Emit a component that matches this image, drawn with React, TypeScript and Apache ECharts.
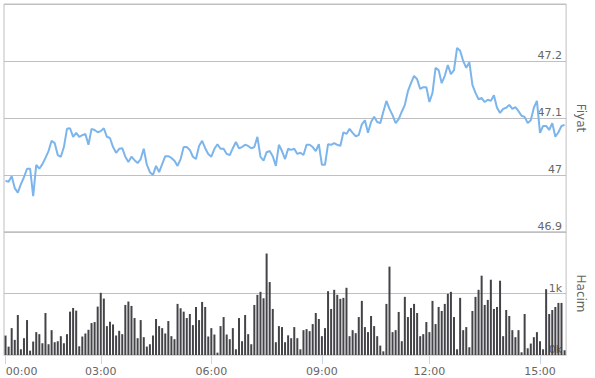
import React, { useEffect, useRef } from "react";
import * as echarts from "echarts";

// Trading sessions (5-minute bars); labels shown only at these times
const sessions: [string, string][] = [
  ["00:00", "00:00"],
  ["00:30", "10:45"],
  ["10:55", "15:40"],
];
const tickLabels = ["00:00", "03:00", "06:00", "09:00", "12:00", "15:00"];

const toMin = (s: string) => {
  const [h, m] = s.split(":").map(Number);
  return h * 60 + m;
};
const fmt = (m: number) =>
  String(Math.floor(m / 60)).padStart(2, "0") + ":" + String(m % 60).padStart(2, "0");
const categories: string[] = [];
sessions.forEach(([a, b]) => {
  for (let m = toMin(a); m <= toMin(b); m += 5) categories.push(fmt(m));
});

const price = [
  46.990, 46.988, 46.998, 46.977, 46.969, 46.984, 46.996, 47.011, 47.011, 46.963,
  47.018, 47.011, 47.019, 47.030, 47.042, 47.060, 47.056, 47.035, 47.032, 47.049,
  47.081, 47.082, 47.067, 47.074, 47.067, 47.070, 47.072, 47.053, 47.081, 47.079,
  47.075, 47.077, 47.082, 47.067, 47.065, 47.049, 47.039, 47.046, 47.047, 47.032,
  47.023, 47.032, 47.026, 47.021, 47.028, 47.046, 47.018, 47.005, 47.000, 47.016,
  47.005, 47.019, 47.033, 47.033, 47.030, 47.025, 47.016, 47.028, 47.049, 47.049,
  47.044, 47.032, 47.028, 47.051, 47.060, 47.047, 47.037, 47.032, 47.046, 47.054,
  47.046, 47.046, 47.037, 47.035, 47.047, 47.058, 47.047, 47.049, 47.053, 47.051,
  47.047, 47.049, 47.067, 47.032, 47.025, 47.040, 47.042, 47.033, 47.016, 47.053,
  47.042, 47.028, 47.046, 47.044, 47.046, 47.037, 47.039, 47.035, 47.053, 47.053,
  47.049, 47.042, 47.054, 47.018, 47.018, 47.054, 47.053, 47.056, 47.053, 47.051,
  47.075, 47.072, 47.081, 47.074, 47.068, 47.070, 47.089, 47.096, 47.074, 47.093,
  47.102, 47.093, 47.091, 47.111, 47.130, 47.116, 47.105, 47.091, 47.098, 47.111,
  47.123, 47.147, 47.161, 47.174, 47.168, 47.151, 47.154, 47.154, 47.128, 47.144,
  47.188, 47.184, 47.161, 47.174, 47.193, 47.177, 47.184, 47.223, 47.218, 47.200,
  47.188, 47.198, 47.158, 47.144, 47.133, 47.135, 47.128, 47.132, 47.130, 47.140,
  47.118, 47.109, 47.116, 47.118, 47.123, 47.116, 47.119, 47.112, 47.104, 47.102,
  47.091, 47.096, 47.118, 47.130, 47.074, 47.086, 47.086, 47.079, 47.091, 47.067,
  47.075, 47.086, 47.088,
];

const volume = [
  316, 136, 437, 246, 650, 93, 273, 568, 71, 219,
  372, 339, 191, 683, 175, 404, 208, 224, 306, 191,
  339, 705, 765, 721, 142, 301, 350, 410, 519, 536,
  787, 1011, 918, 470, 541, 497, 317, 393, 339, 814,
  869, 798, 601, 273, 568, 290, 137, 175, 317, 585,
  470, 437, 350, 552, 306, 257, 831, 760, 705, 601,
  667, 486, 781, 568, 863, 781, 301, 437, 333, 38,
  470, 617, 333, 257, 437, 93, 601, 224, 650, 339,
  175, 814, 978, 1027, 923, 1650, 1186, 749, 208, 470,
  454, 208, 320, 273, 454, 273, 93, 404, 421, 388,
  503, 683, 585, 306, 437, 1038, 749, 1060, 978, 913,
  929, 1093, 306, 404, 355, 617, 880, 454, 372, 634,
  470, 306, 153, 60, 831, 1437, 372, 404, 700, 224,
  945, 617, 765, 831, 683, 306, 339, 536, 372, 880,
  503, 781, 716, 831, 995, 1027, 617, 93, 929, 404,
  454, 126, 716, 945, 1060, 1290, 814, 896, 1224, 749,
  781, 1208, 306, 732, 634, 404, 290, 404, 44, 667,
  109, 186, 290, 372, 224, 93, 1070, 667, 732, 781,
  847, 847, 77,
];

const FONT = "DejaVu Sans";
const GRID_LINE = "#c0c0c0";

export default function App() {
  const ref = useRef<HTMLDivElement>(null);
  useEffect(() => {
    if (!ref.current) return;
    const chart = echarts.init(ref.current, null, { renderer: "svg" });
    const showAt = (_i: number, v: string) => tickLabels.includes(v);
    chart.setOption({
      animation: false,
      grid: [
        { left: 4, right: 26, top: 4, height: 228, show: true, borderColor: GRID_LINE, borderWidth: 1 },
        { left: 4, right: 26, top: 232, height: 123, show: true, borderColor: GRID_LINE, borderWidth: 1 },
      ],
      xAxis: [
        {
          type: "category",
          gridIndex: 0,
          data: categories,
          boundaryGap: true,
          axisLine: { show: false },
          axisTick: { show: false },
          axisLabel: { show: false },
          splitLine: { show: false },
        },
        {
          type: "category",
          gridIndex: 1,
          data: categories,
          boundaryGap: true,
          axisLine: { show: true, lineStyle: { color: "#ccd6eb", width: 1 } },
          axisTick: { show: true, alignWithLabel: true, interval: showAt, length: 9, lineStyle: { color: "#ccd6eb" } },
          axisLabel: {
            interval: showAt,
            margin: 11,
            color: "#666",
            fontSize: 11,
            fontFamily: FONT,
            formatter: (v: string, i: number) => (i === 0 ? `{a|${v}}` : v),
            rich: { a: { padding: [0, 0, 0, 32], color: "#666", fontSize: 11, fontFamily: FONT } },
          },
          splitLine: { show: false },
        },
      ],
      yAxis: [
        {
          type: "value",
          gridIndex: 0,
          position: "right",
          min: 46.9,
          max: 47.3,
          interval: 0.1,
          name: "Fiyat",
          nameLocation: "middle",
          nameRotate: -90,
          nameGap: 10,
          nameTextStyle: { color: "#666", fontSize: 12, fontFamily: FONT, verticalAlign: "top" },
          axisLine: { show: false },
          axisTick: { show: false },
          axisLabel: {
            inside: true,
            margin: 4,
            verticalAlign: "bottom",
            color: "#666",
            fontSize: 11,
            fontFamily: FONT,
            showMaxLabel: false,
          },
          splitLine: { show: true, lineStyle: { color: GRID_LINE, width: 1 } },
        },
        {
          type: "value",
          gridIndex: 1,
          position: "right",
          min: 0,
          max: 2000,
          interval: 1000,
          name: "Hacim",
          nameLocation: "middle",
          nameRotate: -90,
          nameGap: 10,
          nameTextStyle: { color: "#666", fontSize: 12, fontFamily: FONT, verticalAlign: "top" },
          axisLine: { show: false },
          axisTick: { show: false },
          axisLabel: {
            inside: true,
            margin: 4,
            verticalAlign: "bottom",
            color: "#666",
            fontSize: 11,
            fontFamily: FONT,
            showMaxLabel: false,
            formatter: (v: number) => v / 1000 + "k",
          },
          splitLine: { show: true, lineStyle: { color: GRID_LINE, width: 1 } },
        },
      ],
      series: [
        {
          type: "line",
          xAxisIndex: 0,
          yAxisIndex: 0,
          data: price,
          showSymbol: false,
          lineStyle: { color: "#7cb5ec", width: 2 },
          itemStyle: { color: "#7cb5ec" },
        },
        {
          type: "bar",
          xAxisIndex: 1,
          yAxisIndex: 1,
          data: volume,
          barWidth: 2,
          itemStyle: { color: "#434348" },
        },
      ],
    });
    return () => chart.dispose();
  }, []);
  return (
    <div
      ref={ref}
      style={{ position: "fixed", left: 0, top: 0, width: 595, height: 378, background: "#fff" }}
    />
  );
}
